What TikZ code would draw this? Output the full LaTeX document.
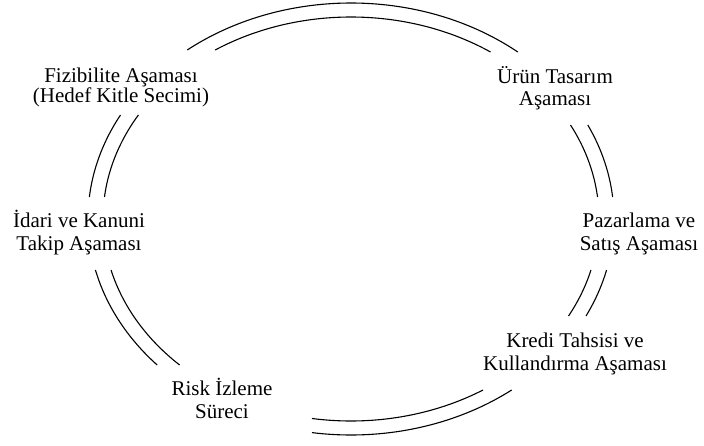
\documentclass[tikz,border=0pt]{standalone}
\usepackage{fontspec}
\setmainfont{Liberation Serif}
\tikzset{
  ring/.style={line width=1.1pt, smooth},
  lbl/.style={align=center, anchor=base, inner sep=0pt, font=\fontsize{21}{23}\selectfont},
}
\newcommand{\outerarc}[2]{\draw[ring] plot[domain=#1:#2, samples=60] ({351+263*cos(\x)},{219-216*sin(\x)});}
\newcommand{\innerarc}[2]{\draw[ring] plot[domain=#1:#2, samples=60] ({351+248*cos(\x)},{219-202*sin(\x)});}
\begin{document}
\begin{tikzpicture}[x=1pt,y=-1pt]
\useasboundingbox (0,0) rectangle (704,445);
% labels (anchor = baseline of last line)
\node[lbl, font=\fontsize{21}{20}\selectfont] (fiz) at (121,102) {Fizibilite Aşaması\\(Hedef Kitle Secimi)};
\node[lbl, font=\fontsize{21}{22}\selectfont] (urun) at (555,105) {Ürün Tasarım\\Aşaması};
\node[lbl] (idari) at (79,250) {İdari ve Kanuni\\Takip Aşaması};
\node[lbl] (paz) at (639,250) {Pazarlama ve\\Satış Aşaması};
\node[lbl] (kredi) at (575,370) {Kredi Tahsisi ve\\Kullandırma Aşaması};
\node[lbl] (risk) at (222,418) {Risk İzleme\\Süreci};
% top arc (Fizibilite -> Ürün)
\outerarc{50.64}{128.5}
\innerarc{55.77}{123.2}
% upper right (Ürün -> Pazarlama)
\outerarc{5.85}{25.8}
\innerarc{6.25}{27.73}
% lower right (Pazarlama -> Kredi)
\outerarc{-26.68}{-13.66}
\innerarc{-28.7}{-14.62}
% bottom (Kredi -> Risk)
\outerarc{-98.53}{-52.34}
\innerarc{-99.05}{-57.83}
% lower left (Risk -> İdari)
\outerarc{193.66}{222.52}
\innerarc{194.62}{226.28}
% upper left (İdari -> Fizibilite)
\outerarc{151.22}{174.15}
\innerarc{149.01}{173.75}
\end{tikzpicture}
\end{document}
